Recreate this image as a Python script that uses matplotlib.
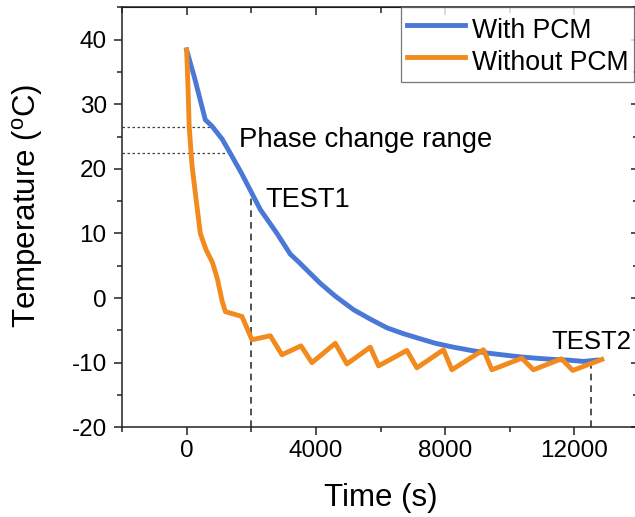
import matplotlib
matplotlib.use("Agg")
import matplotlib.pyplot as plt
from matplotlib.ticker import MultipleLocator

plt.rcParams["font.family"] = ["Liberation Sans", "DejaVu Sans"]
plt.rcParams["axes.unicode_minus"] = False

# With PCM (time s, temperature C)
with_t = [0, 250, 578, 785, 1100, 1352, 1700, 1970, 2280, 2796, 3207, 3464,
          4133, 4600, 5165, 5700, 6198, 6700, 7229, 7700, 8259, 8800, 9291,
          9800, 10322, 10800, 11352, 11800, 12280, 12700]
with_temp = [38.4, 34.0, 27.6, 26.6, 24.6, 22.4, 19.3, 16.7, 13.7, 10.0, 6.8, 5.6,
             2.3, 0.3, -1.8, -3.3, -4.6, -5.5, -6.3, -7.0, -7.6, -8.1, -8.5,
             -8.8, -9.1, -9.3, -9.5, -9.6, -9.8, -9.6]

# Without PCM
without_t = [0, 40, 80, 167, 300, 424, 600, 800, 950, 1100, 1200, 1713, 2022,
             2589, 2950, 3540, 3878, 4600, 4960, 5683, 5940, 6816, 7126, 7950,
             8209, 9187, 9446, 10374, 10733, 11600, 11950, 12850]
without_temp = [38.4, 33.0, 26.5, 20.5, 15.0, 10.0, 7.5, 5.5, 3.0, -0.5, -2.1,
                -2.85, -6.45, -5.83, -8.77, -7.4, -10.0, -7.0, -10.2, -7.6, -10.5,
                -8.1, -10.8, -8.0, -11.1, -8.0, -11.1, -9.3, -11.1, -9.4, -11.2, -9.5]

phase_range = [26.5, 22.5]
phase_end_t = [733, 1260]
test_t = [2000, 12500]
test_temp = [15.6, -9.8]

blue = "#4a78d6"
orange = "#f28a1e"

fig = plt.figure(figsize=(6.35, 5.17), dpi=100)
ax = fig.add_axes([122 / 635, 1 - 427.3 / 517, 517 / 635, 420 / 517])

ax.plot(with_t, with_temp, color=blue, lw=3.5, label="With PCM", zorder=3)
ax.plot(without_t, without_temp, color=orange, lw=3.5, label="Without PCM", zorder=3)

for y, xe in zip(phase_range, phase_end_t):
    ax.plot([-2000, xe], [y, y], color="#444444", lw=0.9, ls=(0, (2, 2)), zorder=2)
for x, ye in zip(test_t, test_temp):
    ax.plot([x, x], [-20, ye], color="#333333", lw=1.2, ls=(0, (4, 3)), zorder=2)

ax.text(1630, 24.4, "Phase change range", fontsize=19.8, ha="left", va="center")
ax.text(2434, 15.2, "TEST1", fontsize=19.5, ha="left", va="center")
ax.text(11300, -6.8, "TEST2", fontsize=18.5, ha="left", va="center")

ax.set_xlim(-2000, 14000)
ax.set_ylim(-20, 45)
ax.xaxis.set_major_locator(MultipleLocator(4000))
ax.xaxis.set_minor_locator(MultipleLocator(2000))
ax.yaxis.set_major_locator(MultipleLocator(10))
ax.yaxis.set_minor_locator(MultipleLocator(5))
ax.set_yticks([-20, -10, 0, 10, 20, 30, 40])

for s in ax.spines.values():
    s.set_linewidth(1.1)
    s.set_color("#222222")

ax.tick_params(which="major", length=6, width=1.1, labelsize=17.5, color="#222222")
ax.tick_params(which="minor", length=3.5, width=1.1, color="#222222")
ax.tick_params(axis="x", pad=3)
ax.tick_params(axis="y", pad=5)

# mirrored ticks pointing inward on top and right
top = ax.secondary_xaxis("top")
top.xaxis.set_major_locator(MultipleLocator(4000))
top.xaxis.set_minor_locator(MultipleLocator(2000))
top.tick_params(which="both", direction="in", labeltop=False, width=1.1, color="#222222")
top.tick_params(which="major", length=6)
top.tick_params(which="minor", length=4)
right = ax.secondary_yaxis("right")
right.yaxis.set_major_locator(MultipleLocator(10))
right.yaxis.set_minor_locator(MultipleLocator(5))
right.tick_params(which="both", direction="in", labelright=False, width=1.1, color="#222222")
right.tick_params(which="major", length=6)
right.tick_params(which="minor", length=4)

ax.set_xlabel("Time (s)", fontsize=22.5, va="center")
ax.xaxis.set_label_coords(0.5, -0.168)
ax.set_ylabel("Temperature ($\\mathregular{^{o}}$C)", fontsize=22.5, va="center",
              rotation_mode="anchor")
ax.yaxis.set_label_coords(-0.182, 0.527)

leg = ax.legend(loc="upper left", bbox_to_anchor=(400.7 / 635, 1 - 7.3 / 517),
                bbox_transform=fig.transFigure, fontsize=19.2, frameon=True,
                fancybox=False, borderaxespad=0, borderpad=0.22,
                handlelength=2.2, handleheight=1.45, handletextpad=0.25,
                labelspacing=0.0)
leg.get_frame().set_edgecolor("#555555")
leg.get_frame().set_linewidth(0.9)

fig.savefig("out.png", dpi=100)
